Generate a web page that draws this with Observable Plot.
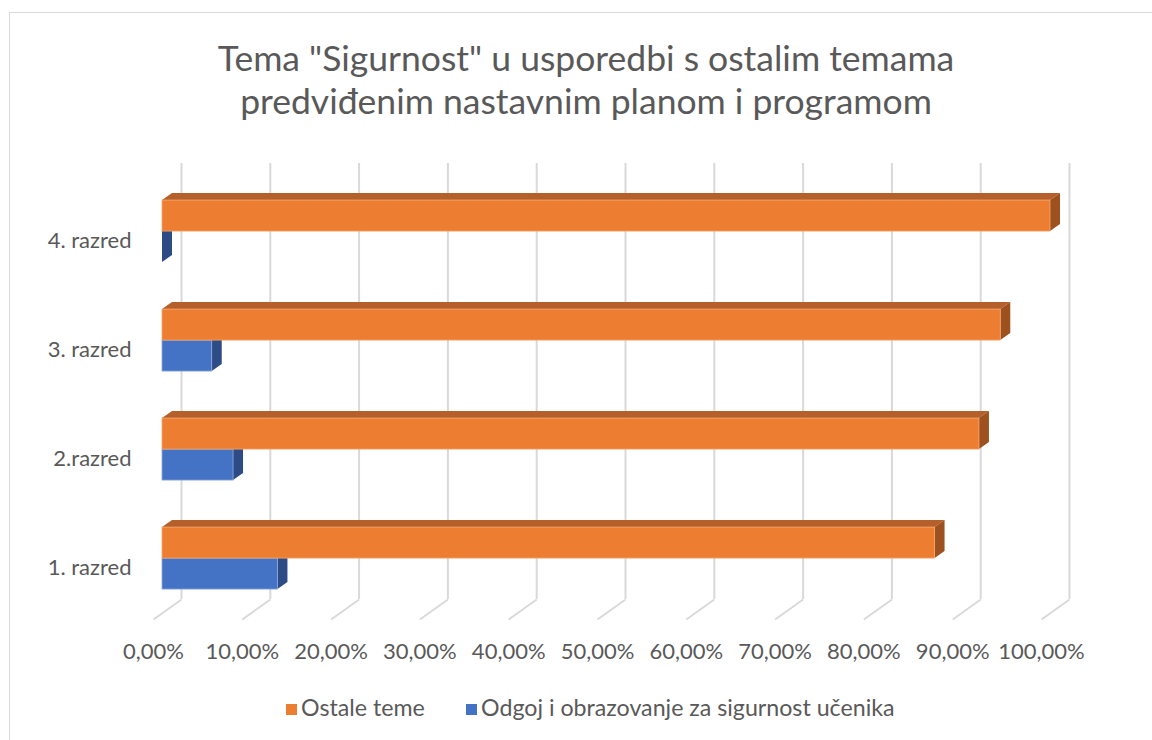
<!DOCTYPE html>
<html>
<head>
<meta charset="utf-8">
<script src="https://cdn.jsdelivr.net/npm/d3@7"></script>
<script src="https://cdn.jsdelivr.net/npm/@observablehq/plot@0.6"></script>
<style>
  body { margin: 0; background: #ffffff; }
  #wrap { position: relative; width: 1152px; height: 740px; overflow: hidden; background: #fff;
          font-family: Lato, "Open Sans", sans-serif; color: #595959; }
  #border { position: absolute; left: 9px; top: 12px; width: 1200px; height: 800px;
            border-left: 1.5px solid #d9d9d9; border-top: 1.5px solid #d9d9d9; }
  #chart { position: absolute; left: 0; top: 0; }
  #title { position: absolute; left: 0; top: 36px; width: 1172px; text-align: center;
           font-size: 35.5px; line-height: 43px; }
  .leg { position: absolute; top: 693px; font-size: 23.2px; line-height: 28px; white-space: nowrap; }
  .sw { display: inline-block; width: 11px; height: 11px; margin-right: 4px; vertical-align: 1px; }
</style>
</head>
<body>
<div id="wrap">
  <div id="border"></div>
  <div id="chart"></div>
  <div id="title"></div>
</div>
<script>
// ---- data ----
const titleLines = ["Tema \"Sigurnost\" u usporedbi s ostalim temama", "predviđenim nastavnim planom i programom"];
const categories = ["1. razred", "2.razred", "3. razred", "4. razred"];
const seriesNames = ["Ostale teme", "Odgoj i obrazovanje za sigurnost učenika"];
const ostaleTeme = [0.87, 0.92, 0.944, 1.0];
const odgojSigurnost = [0.13, 0.08, 0.056, 0.0];
const xTicks = [0, 0.1, 0.2, 0.3, 0.4, 0.5, 0.6, 0.7, 0.8, 0.9, 1.0];
const xTickLabels = ["0,00%", "10,00%", "20,00%", "30,00%", "40,00%", "50,00%", "60,00%", "70,00%", "80,00%", "90,00%", "100,00%"];

// ---- styles / geometry ----
const colors = {
  orange: { front: "#ED7D31", top: "#B5602A", side: "#9C511F", edge: "#F3A772" },
  blue:   { front: "#4472C4", top: "#2F5597", side: "#2D4C86", edge: "#8FAADC" }
};
const seriesColors = [colors.orange, colors.blue];

const W = 1152, H = 740, mL = 181, mR = 83, mT = 163, mB = 141;
const xDomain = [0, 1], yDomain = [-0.5, 3.5];
const kx = (xDomain[1] - xDomain[0]) / (W - mL - mR);   // data units per px
const ky = (yDomain[1] - yDomain[0]) / (H - mT - mB);
const depthPx = [-28, 20];             // back wall -> front floor, pixels
const off = t => [depthPx[0] * t * kx, -depthPx[1] * t * ky];
const [fx, fy] = off(19 / 28);         // bar front plane
const [bx, by] = off(9 / 28);          // bar back plane
const [ffx, ffy] = off(1);             // floor front
const barT = 31 * ky;                  // bar thickness

const bars = [];
categories.forEach((c, i) => {
  bars.push({ key: "o" + i, s: 0, v: ostaleTeme[i], y0: i, y1: i + barT });
  bars.push({ key: "b" + i, s: 1, v: odgojSigurnost[i], y0: i - barT, y1: i });
});
const blueBars = bars.filter(d => d.s === 1);
const orangeBars = bars.filter(d => d.s === 0);

const topPts = bs => bs.flatMap(d => [
  { key: d.key, s: d.s, y: d.y1 + fy, x1: fx, x2: d.v + fx },
  { key: d.key, s: d.s, y: d.y1 + by, x1: bx, x2: d.v + bx }
]);
const sidePts = bs => bs.flatMap(d => [
  { key: d.key, s: d.s, x: d.v + fx, y1: d.y0 + fy, y2: d.y1 + fy },
  { key: d.key, s: d.s, x: d.v + bx, y1: d.y0 + by, y2: d.y1 + by }
]);

const faceMarks = (bs, col) => [
  Plot.areaX(topPts(bs), { y: "y", x1: "x1", x2: "x2", z: "key", fill: col.top }),
  Plot.areaY(sidePts(bs), { x: "x", y1: "y1", y2: "y2", z: "key", fill: col.side }),
  Plot.rect(bs, { x1: () => fx, x2: d => d.v + fx, y1: d => d.y0 + fy, y2: d => d.y1 + fy,
                  fill: col.front, stroke: col.edge, strokeWidth: 0.8 })
];

const chart = Plot.plot({
  width: W, height: H,
  marginLeft: mL, marginRight: mR, marginTop: mT, marginBottom: mB,
  x: { domain: xDomain },
  y: { domain: yDomain },
  style: { fontFamily: "Lato, 'Open Sans', sans-serif", fontSize: "22px", color: "#595959", background: "transparent" },
  marks: [
    Plot.ruleX(xTicks, { stroke: "#d9d9d9", strokeWidth: 2 }),
    Plot.link(xTicks, { x1: d => d, y1: () => yDomain[0], x2: d => d + ffx, y2: () => yDomain[0] + ffy,
                        stroke: "#d9d9d9", strokeWidth: 2 }),
    ...faceMarks(blueBars, colors.blue),
    ...faceMarks(orangeBars, colors.orange),
    Plot.axisX(xTicks, { tickFormat: d => xTickLabels[xTicks.indexOf(d)], tickSize: 0, tickPadding: 44,
                         dx: depthPx[0], label: null, fontSize: 22 }),
    Plot.axisY([0, 1, 2, 3], { tickFormat: i => categories[i], tickSize: 0, tickPadding: 22,
                               dx: depthPx[0], dy: 23, label: null, fontSize: 22 })
  ]
});
document.getElementById("chart").appendChild(chart);

document.getElementById("title").innerHTML = titleLines.map(t => `<div>${t.replace(/</g, "&lt;")}</div>`).join("");

const legPos = [286, 466];
seriesNames.forEach((name, i) => {
  const el = document.createElement("div");
  el.className = "leg";
  el.style.left = legPos[i] + "px";
  const sw = document.createElement("span");
  sw.className = "sw";
  sw.style.background = seriesColors[i].front;
  el.appendChild(sw);
  el.appendChild(document.createTextNode(name));
  document.getElementById("wrap").appendChild(el);
});
</script>
</body>
</html>
